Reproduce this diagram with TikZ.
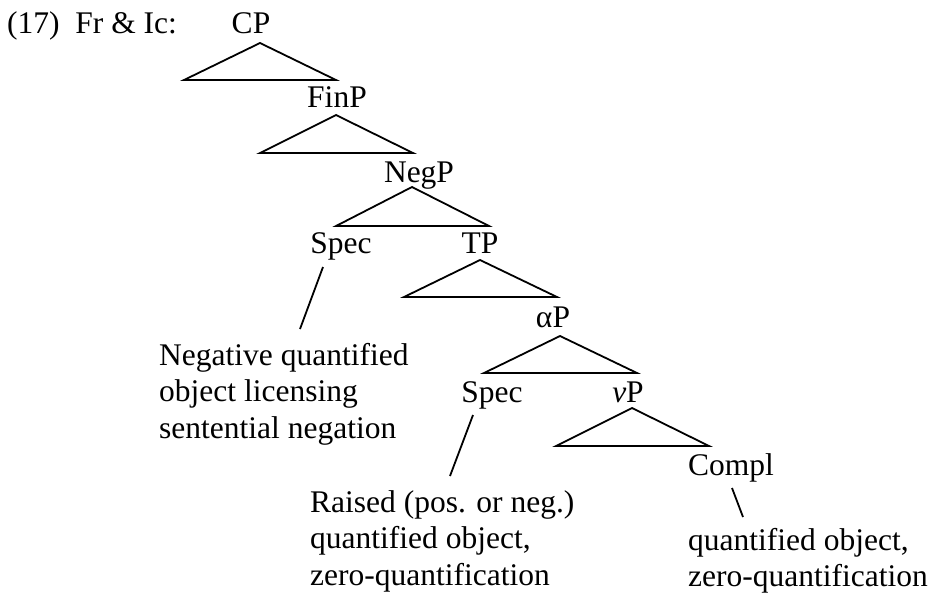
\documentclass[tikz,border=0pt]{standalone}
\usepackage{fontspec}
\setmainfont{Liberation Serif}
\begin{document}
\begin{tikzpicture}[x=1pt,y=-1pt,
  lbl/.style={inner sep=0pt,anchor=base,font=\fontsize{31.5}{36.5}\selectfont},
  blk/.style={inner sep=0pt,anchor=base west,font=\fontsize{31.5}{36.5}\selectfont},
  edge/.style={line width=1.8pt,line join=miter},
  link/.style={line width=1.8pt}]
\useasboundingbox (0,0) rectangle (933,592);

% heading
\node[blk] (title) at (7,33) {(17)\ \ Fr \& Ic:};

% category labels
\node[lbl] (cp)    at (251,33)  {CP};
\node[lbl] (finp)  at (337,107) {FinP};
\node[lbl] (negp)  at (419,182) {NegP};
\node[lbl] (specA) at (341,253) {Spec};
\node[lbl] (tp)    at (480,253) {TP};
\node[lbl] (ap)    at (553,327) {αP};
\node[lbl] (specB) at (492,402) {Spec};
\node[lbl] (vp)    at (628,402) {\textit{v}P};
\node[lbl] (compl) at (731,475) {Compl};

% annotations
\node[blk] (negtext) at (159,365) {\begin{tabular}[t]{@{}l@{}}Negative quantified\\object licensing\\sentential negation\end{tabular}};
\node[blk] (raised) at (310,512) {\begin{tabular}[t]{@{}l@{}}Raised (pos. or neg.)\\quantified object,\\zero-quantification\end{tabular}};
\node[blk] (qobj) at (688,550) {\begin{tabular}[t]{@{}l@{}}quantified object,\\zero-quantification\end{tabular}};

% triangle corners
\coordinate (cpT) at (260,43);  \coordinate (cpL) at (184,80);  \coordinate (cpR) at (336,80);
\coordinate (fiT) at (336,115); \coordinate (fiL) at (260,153); \coordinate (fiR) at (413,153);
\coordinate (ngT) at (412,187); \coordinate (ngL) at (336,226); \coordinate (ngR) at (489,226);
\coordinate (tpT) at (480,260); \coordinate (tpL) at (404,297); \coordinate (tpR) at (557,297);
\coordinate (apT) at (560,336); \coordinate (apL) at (484,373); \coordinate (apR) at (637,373);
\coordinate (vpT) at (632,408); \coordinate (vpL) at (556,446); \coordinate (vpR) at (709,446);

\foreach \t in {cp,fi,ng,tp,ap,vp}
  \draw[edge] (\t L) -- (\t T) -- (\t R) -- cycle;

% pointer lines
\coordinate (sAa) at (323,267); \coordinate (sAb) at (300,329);
\coordinate (sBa) at (473,415); \coordinate (sBb) at (450,476);
\coordinate (cAa) at (732,488); \coordinate (cAb) at (743,517);
\draw[link] (sAa) -- (sAb);
\draw[link] (sBa) -- (sBb);
\draw[link] (cAa) -- (cAb);
\end{tikzpicture}
\end{document}
